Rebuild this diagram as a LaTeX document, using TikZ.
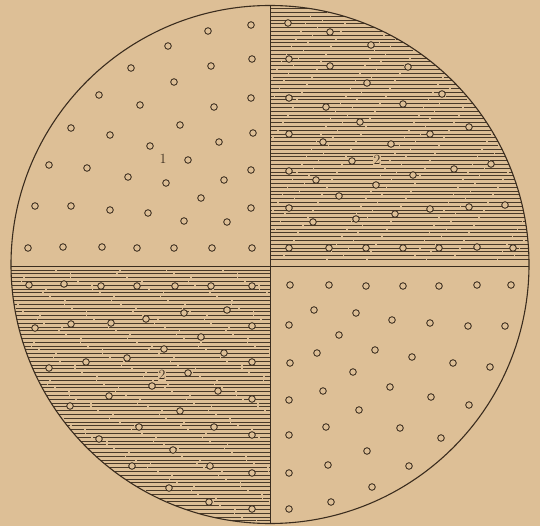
\documentclass[tikz,border=0pt]{standalone}
\definecolor{paper}{RGB}{221,191,150}
\definecolor{ink}{RGB}{58,44,30}
\begin{document}
\begin{tikzpicture}[x=1pt,y=-1pt,
  dot/.style={circle,draw=ink,fill=paper,line width=0.85pt,minimum size=6.6pt,inner sep=0pt},
  hatch/.style={draw=ink,line width=0.65pt,opacity=0.9},
  lbl/.style={font=\fontsize{14}{14}\selectfont,text=ink,inner sep=1pt}]
\fill[paper] (0,0) rectangle (540,526);
\useasboundingbox (0,0) rectangle (540,526);
\coordinate (c) at (270,264.5);
\coordinate (top) at (270,5.5);
\coordinate (bot) at (270,523.5);
\coordinate (lft) at (0,266);
\coordinate (rgt) at (540,266);
\begin{scope}
  \clip (c) circle (259pt);
  \foreach \y in {8.5,12.3,...,263} {
    \pgfmathsetmacro\ph{mod(\y*23,170)}
    \draw[hatch,dash pattern=on 70pt off 1.5pt on 38pt off 2pt on 58pt off 1.2pt,dash phase=\ph pt] (270,\y) -- (540,\y);
  }
  \foreach \y in {270,273.8,...,526} {
    \pgfmathsetmacro\ph{mod(\y*13,170)}
    \draw[hatch,dash pattern=on 62pt off 1.8pt on 45pt off 1.2pt on 55pt off 2pt,dash phase=\ph pt] (0,\y) -- (270,\y);
  }
  \draw[ink,line width=0.9pt] (lft) -- (rgt);
\end{scope}
\draw[ink,line width=1.1pt] (c) circle (259pt);
\draw[ink,line width=1pt] (top) -- (bot);
% top-left dots
\foreach \p [count=\i] in {(208,31),(251,25),(168,46),(252,59),(131,68),(211,66),(174,82),(99,95),(140,105),(214,107),(251,98),(71,128),(110,135),(180,125),(219,142),(253,133),(150,146),(188,160),(49,165),(87,168),(128,177),(166,183),(224,180),(251,170),(201,198),(35,206),(71,206),(110,210),(148,213),(184,221),(227,222),(251,208),(28,248),(63,247),(102,247),(137,248),(174,248),(212,248),(252,248)}
  \node[dot] (a\i) at \p {};
% top-right dots
\foreach \p [count=\i] in {(288,23),(330,32),(371,45),(289,59),(330,66),(408,67),(367,83),(442,94),(289,98),(326,107),(403,104),(360,122),(469,127),(289,134),(323,142),(391,144),(430,134),(352,161),(491,164),(454,169),(289,171),(413,175),(316,180),(376,185),(339,196),(289,208),(430,209),(469,207),(505,205),(395,214),(313,222),(356,219),(289,248),(329,248),(366,248),(403,248),(439,248),(477,247),(513,248)}
  \node[dot] (b\i) at \p {};
% bottom-left dots
\foreach \p [count=\i] in {(29,285),(64,284),(101,286),(137,286),(175,286),(211,286),(252,286),(227,310),(184,313),(146,319),(111,323),(71,324),(35,328),(252,326),(201,337),(164,349),(224,353),(127,358),(86,362),(49,368),(252,362),(188,373),(152,386),(218,391),(109,396),(252,399),(70,406),(180,411),(139,427),(214,427),(252,435),(99,439),(173,450),(132,466),(210,466),(252,473),(169,488),(209,502),(252,509)}
  \node[dot] (e\i) at \p {};
% bottom-right dots
\foreach \p [count=\i] in {(290,285),(329,285),(366,286),(403,286),(439,286),(477,285),(511,285),(314,310),(356,313),(392,320),(430,323),(468,326),(505,326),(289,325),(339,335),(317,353),(375,350),(412,357),(453,363),(490,367),(290,363),(353,372),(323,391),(390,387),(431,397),(469,405),(289,400),(359,410),(326,427),(400,428),(441,438),(289,435),(367,451),(328,465),(409,466),(289,473),(372,487),(331,502),(289,509)}
  \node[dot] (f\i) at \p {};
\node[lbl] (l1) at (163,159) {1};
\node[lbl,fill=paper] (l2) at (377,160) {2};
\node[lbl,fill=paper] (l3) at (162,375) {2};
\end{tikzpicture}
\end{document}
